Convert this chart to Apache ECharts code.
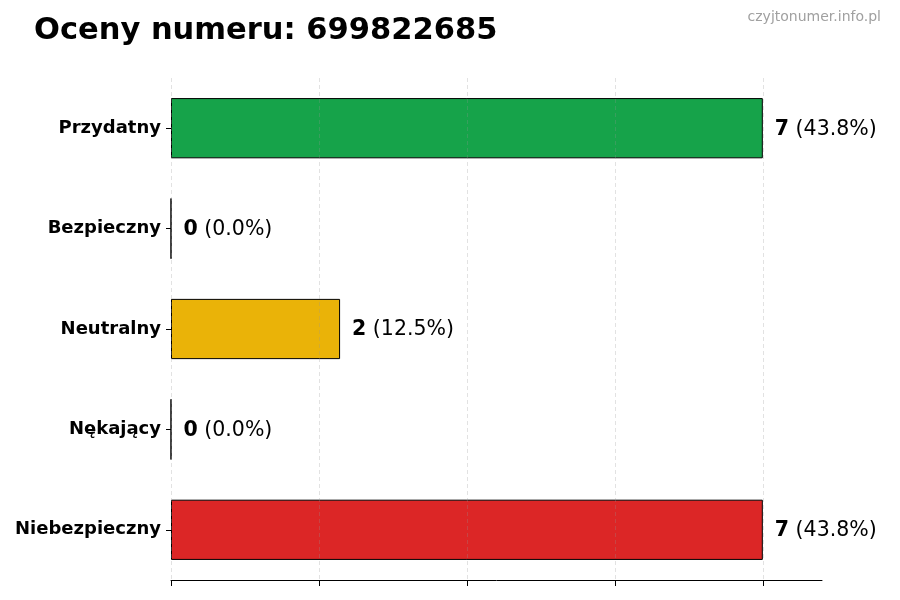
<!DOCTYPE html>
<html>
<head>
<meta charset="utf-8">
<script src="https://cdn.jsdelivr.net/npm/echarts@6/dist/echarts.min.js"></script>
<style>
  html, body { margin: 0; padding: 0; background: #fff; }
  #chart { width: 900px; height: 600px; }
</style>
</head>
<body>
<div id="chart"></div>
<script>
var categories = ['Przydatny', 'Bezpieczny', 'Neutralny', 'Nękający', 'Niebezpieczny'];
var counts = [7, 0, 2, 0, 7];
var colors = ['#16a34a', '#16a34a', '#eab308', '#dc2626', '#dc2626'];
var gridTicks = [0, 1.75, 3.5, 5.25, 7];

var total = counts.reduce(function (a, b) { return a + b; }, 0);
var font = 'DejaVu Sans';

var myChart = echarts.init(document.getElementById('chart'));

var option = {
  animation: false,
  textStyle: { fontFamily: font },
  title: [
    {
      text: 'Oceny numeru: 699822685',
      left: 34,
      top: 16,
      padding: 0,
      textStyle: { fontFamily: font, fontSize: 30.5, fontWeight: 'bold', color: '#000' }
    },
    {
      text: 'czyjtonumer.info.pl',
      right: 19,
      top: 10,
      padding: 0,
      textStyle: { fontFamily: font, fontSize: 14, fontWeight: 'normal', color: '#a0a0a0' }
    }
  ],
  grid: {
    left: 171,
    right: 78,
    top: 78,
    bottom: 20
  },
  xAxis: {
    type: 'value',
    min: 0,
    max: 7.7,
    interval: 1.75,
    axisLine: { show: true, lineStyle: { color: '#000', width: 1 } },
    axisTick: { show: true, length: 6, customValues: gridTicks, lineStyle: { color: '#000' } },
    axisLabel: { show: false },
    splitLine: { show: false }
  },
  yAxis: {
    type: 'category',
    inverse: true,
    data: categories,
    axisLine: { show: false },
    axisTick: { show: true, alignWithLabel: true, length: 5, lineStyle: { color: '#000' } },
    axisLabel: { fontFamily: font, fontSize: 18, fontWeight: 'bold', color: '#000', margin: 10 }
  },
  series: [
    {
      type: 'bar',
      barWidth: '60%',
      data: counts.map(function (v, i) {
        return {
          value: v,
          itemStyle: { color: colors[i], borderColor: '#000', borderWidth: 1 }
        };
      }),
      label: {
        show: true,
        position: 'right',
        distance: 12,
        offset: [0, 1],
        formatter: function (p) {
          var pct = (p.value / total * 100).toFixed(1);
          return '{b|' + p.value + '}{n| (' + pct + '%)}';
        },
        rich: {
          b: { fontFamily: font, fontSize: 20.5, fontWeight: 'bold', color: '#000' },
          n: { fontFamily: font, fontSize: 20.5, color: '#000' }
        }
      },
      markLine: {
        silent: true,
        symbol: 'none',
        label: { show: false },
        lineStyle: { type: [4, 3], color: 'rgba(150,150,150,0.35)', width: 0.8 },
        data: gridTicks.map(function (t) { return { xAxis: t }; })
      }
    }
  ]
};

myChart.setOption(option);
window.addEventListener('resize', function () {
  myChart.resize();
});
</script>
</body>
</html>
